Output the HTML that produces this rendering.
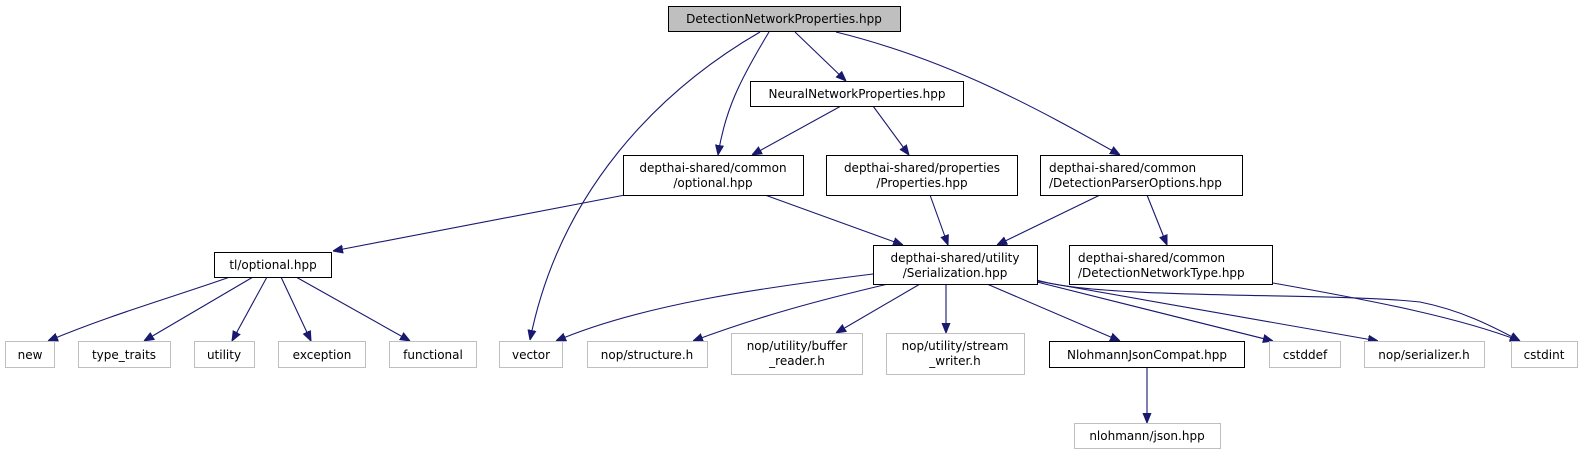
<!DOCTYPE html>
<html><head><meta charset="utf-8"><style>
html,body{margin:0;padding:0;background:#fff;}
svg{display:block;}
text{font-family:"DejaVu Sans","Liberation Sans",sans-serif;font-size:12px;fill:#000;}
.e{fill:none;stroke:#191970;stroke-width:1.1;}
.b{fill:#fff;stroke:#000;stroke-width:1;}
.g{fill:#fff;stroke:#bfbfbf;stroke-width:1;}
</style></head><body>
<svg width="1581" height="455" viewBox="0 0 1581 455" xmlns="http://www.w3.org/2000/svg">
<defs>
<marker id="a" viewBox="0 0 10 10" refX="10" refY="5" markerWidth="10" markerHeight="10" markerUnits="userSpaceOnUse" orient="auto">
<path d="M0,1 L10,5 L0,9 z" fill="#191970" stroke="#191970"/>
</marker>
</defs>
<g marker-end="url(#a)">
<path class="e" d="M760,32 C660,90 560,190 530,340"/>
<path class="e" d="M769,32 C740,80 725,110 718,155"/>
<path class="e" d="M795,32 L846,81"/>
<path class="e" d="M836,32 C950,60 1040,110 1120,155"/>
<path class="e" d="M841,106 L752,155"/>
<path class="e" d="M873,106 L909,155"/>
<path class="e" d="M625,195 L333,251"/>
<path class="e" d="M765,195 L903,245"/>
<path class="e" d="M930,195 L948,245"/>
<path class="e" d="M1100,195 L997,245"/>
<path class="e" d="M1147,195 L1167,245"/>
<path class="e" d="M230,277 C170,298 110,315 48,341"/>
<path class="e" d="M253,277 L144,341"/>
<path class="e" d="M267,277 L232,341"/>
<path class="e" d="M281,277 L311,341"/>
<path class="e" d="M296,277 L410,341"/>
<path class="e" d="M873,274 C760,288 640,305 556,341"/>
<path class="e" d="M888,284 C820,300 760,316 693,341"/>
<path class="e" d="M920,284 L836,333"/>
<path class="e" d="M946,284 L946,333"/>
<path class="e" d="M987,284 L1120,341"/>
<path class="e" d="M1037,282 L1273,341"/>
<path class="e" d="M1037,281 L1378,341"/>
<path class="e" d="M1037,280 C1100,300 1330,292 1420,302 C1460,310 1490,325 1520,341"/>
<path class="e" d="M1273,283 C1380,302 1460,318 1520,341"/>
<path class="e" d="M1147,367 L1147,423"/>
</g>
<rect x="668.5" y="6.5" width="232" height="25" fill="#bfbfbf" stroke="#000"/>
<text x="784" y="23" text-anchor="middle">DetectionNetworkProperties.hpp</text>
<rect class="b" x="750.5" y="81.5" width="213" height="25"/>
<text x="857" y="98" text-anchor="middle">NeuralNetworkProperties.hpp</text>
<rect class="b" x="623.5" y="155.5" width="180" height="40"/>
<text x="713" y="172" text-anchor="middle">depthai-shared/common</text>
<text x="713" y="187" text-anchor="middle">/optional.hpp</text>
<rect class="b" x="826.5" y="155.5" width="191" height="40"/>
<text x="922" y="172" text-anchor="middle">depthai-shared/properties</text>
<text x="922" y="187" text-anchor="middle">/Properties.hpp</text>
<rect class="b" x="1040.5" y="155.5" width="202" height="40"/>
<text x="1049" y="172">depthai-shared/common</text>
<text x="1049" y="187">/DetectionParserOptions.hpp</text>
<rect class="b" x="214.5" y="252.5" width="117" height="25"/>
<text x="273" y="269" text-anchor="middle">tl/optional.hpp</text>
<rect class="b" x="873.5" y="245.5" width="164" height="39"/>
<text x="955" y="262" text-anchor="middle">depthai-shared/utility</text>
<text x="955" y="277" text-anchor="middle">/Serialization.hpp</text>
<rect class="b" x="1069.5" y="245.5" width="203" height="39"/>
<text x="1078" y="262">depthai-shared/common</text>
<text x="1078" y="277">/DetectionNetworkType.hpp</text>
<rect class="g" x="5.5" y="341.5" width="49" height="26"/><text x="30" y="359" text-anchor="middle">new</text>
<rect class="g" x="78.5" y="341.5" width="92" height="26"/><text x="124" y="359" text-anchor="middle">type_traits</text>
<rect class="g" x="194.5" y="341.5" width="60" height="26"/><text x="224" y="359" text-anchor="middle">utility</text>
<rect class="g" x="278.5" y="341.5" width="87" height="26"/><text x="322" y="359" text-anchor="middle">exception</text>
<rect class="g" x="389.5" y="341.5" width="87" height="26"/><text x="433" y="359" text-anchor="middle">functional</text>
<rect class="g" x="499.5" y="341.5" width="63" height="26"/><text x="531" y="359" text-anchor="middle">vector</text>
<rect class="g" x="587.5" y="341.5" width="120" height="26"/><text x="647" y="359" text-anchor="middle">nop/structure.h</text>
<rect class="g" x="731.5" y="333.5" width="131" height="41"/><text x="797" y="350" text-anchor="middle">nop/utility/buffer</text><text x="797" y="365" text-anchor="middle">_reader.h</text>
<rect class="g" x="886.5" y="333.5" width="138" height="41"/><text x="955" y="350" text-anchor="middle">nop/utility/stream</text><text x="955" y="365" text-anchor="middle">_writer.h</text>
<rect class="b" x="1049.5" y="341.5" width="195" height="26"/><text x="1147" y="359" text-anchor="middle">NlohmannJsonCompat.hpp</text>
<rect class="g" x="1269.5" y="341.5" width="71" height="26"/><text x="1305" y="359" text-anchor="middle">cstddef</text>
<rect class="g" x="1364.5" y="341.5" width="120" height="26"/><text x="1424" y="359" text-anchor="middle">nop/serializer.h</text>
<rect class="g" x="1511.5" y="341.5" width="66" height="26"/><text x="1544" y="359" text-anchor="middle">cstdint</text>
<rect class="g" x="1074.5" y="423.5" width="146" height="25"/><text x="1147" y="440" text-anchor="middle">nlohmann/json.hpp</text>
</svg>
</body></html>
